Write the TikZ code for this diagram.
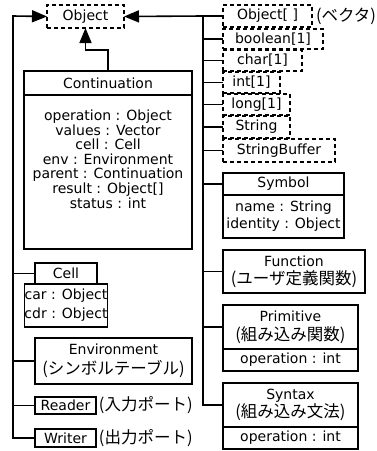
\documentclass[tikz,border=0pt]{standalone}
\usepackage{fontspec}
\setmainfont{DejaVu Sans}
\newfontfamily\jpfam{Noto Sans CJK JP}
\newcommand\jt[1]{{\jpfam\fontsize{16.5}{18}\selectfont #1}}
\usetikzlibrary{arrows.meta}
\begin{document}
\begin{tikzpicture}[x=1pt,y=-1pt,
  every node/.style={font=\fontsize{14}{14.6}\selectfont, inner sep=0pt, outer sep=0pt},
  bx/.style={draw, line width=1.3pt, align=center},
  dbx/.style={draw, line width=1.3pt, dash pattern=on 4pt off 3pt, align=center},
  txt/.style={align=center},
  ln/.style={line width=1.6pt},
  arr/.style={line width=1.6pt, -{Triangle[length=15pt,width=12pt]}},
]
\useasboundingbox (0,0) rectangle (376,451);
% Object
\node[dbx, minimum width=77pt, minimum height=23pt] (obj) at (85.5,16.5) {Object};
% dashed boxes on the right
\node[dbx, minimum width=89pt, minimum height=22pt] (oarr) at (267.5,16) {Object[ ]};
\node[txt, anchor=west] (vec) at (316,16) {\jt{(ベクタ)}};
\node[dbx, minimum width=100pt, minimum height=20pt] (bool) at (273,39) {boolean[1]};
\node[dbx, minimum width=79pt, minimum height=21pt] (chr) at (262.5,60.5) {char[1]};
\node[dbx, minimum width=57pt, minimum height=21pt] (int) at (251.5,82.5) {int[1]};
\node[dbx, minimum width=67pt, minimum height=21pt] (lng) at (256.5,104.5) {long[1]};
\node[dbx, minimum width=67pt, minimum height=22pt] (str) at (256.5,127) {String};
\node[dbx, minimum width=112pt, minimum height=23pt] (sbuf) at (279,150.5) {StringBuffer};
% Continuation
\node[bx, minimum width=168pt, minimum height=24pt] (conth) at (108,83) {Continuation};
\node[bx, minimum width=168pt, minimum height=154pt] (contb) at (108,172) {};
\node[txt] (contt) at (108,159) {operation : Object\\values : Vector\\cell : Cell\\env : Environment\\parent : Continuation\\result : Object[]\\status : int};
% Cell
\node[bx, minimum width=62pt, minimum height=21pt] (cellh) at (66,273.5) {Cell};
\node[bx, minimum width=62pt, minimum height=43pt, font=\fontsize{14}{19}\selectfont] (cellb) at (66,305.5) {car : Object\\cdr : Object};
% Environment
\node[bx, minimum width=157pt, minimum height=46pt, font=\fontsize{14}{20}\selectfont] (env) at (113.5,361) {Environment\\\jt{(シンボルテーブル)}};
% Reader / Writer
\node[bx, minimum width=61pt, minimum height=17pt] (rdr) at (65.5,405.5) {Reader};
\node[txt, anchor=west] (rdrl) at (99,405.5) {\jt{(入力ポート)}};
\node[bx, minimum width=61pt, minimum height=18pt] (wtr) at (65.5,438) {Writer};
\node[txt, anchor=west] (wtrl) at (99,438) {\jt{(出力ポート)}};
% Symbol
\node[bx, minimum width=121pt, minimum height=22pt] (symh) at (283.5,184) {Symbol};
\node[bx, minimum width=121pt, minimum height=43pt, font=\fontsize{14}{17}\selectfont] (symb) at (283.5,216.5) {name : String\\identity : Object};
% Function
\node[bx, minimum width=142pt, minimum height=43pt, font=\fontsize{14}{18}\selectfont] (fun) at (294,271.5) {Function\\\jt{(ユーザ定義関数)}};
% Primitive
\node[bx, minimum width=135pt, minimum height=44pt, font=\fontsize{14}{19}\selectfont] (primh) at (290.5,327) {Primitive\\\jt{(組み込み関数)}};
\node[bx, minimum width=135pt, minimum height=22pt] (primb) at (290.5,360) {operation : int};
% Syntax
\node[bx, minimum width=135pt, minimum height=44pt, font=\fontsize{14}{18}\selectfont] (synh) at (290.5,405) {Syntax\\\jt{(組み込み文法)}};
\node[bx, minimum width=135pt, minimum height=22pt] (synb) at (290.5,438) {operation : int};
% trunks
\coordinate (L) at (13,16);
\coordinate (R) at (203,16);
\draw[arr] (wtr.west) -| (L) -- (obj.west);
\draw[ln] (rdr.west) -- (L |- rdr.west);
\draw[ln] (env.west) -- (L |- env.west);
\draw[ln] (cellh.west) -- (L |- cellh.west);
\draw[arr] (synh.west) -| (R) -- (obj.east);
\draw[ln] (oarr.west) -- (R);
\foreach \n in {bool,chr,int,lng,str,sbuf,symh,fun,primh}{
  \draw[ln] (\n.west) -- (R |- \n.west);
}
\draw[arr] (conth.north) -- ++(0,-21) -| (obj.south);
\end{tikzpicture}
\end{document}
